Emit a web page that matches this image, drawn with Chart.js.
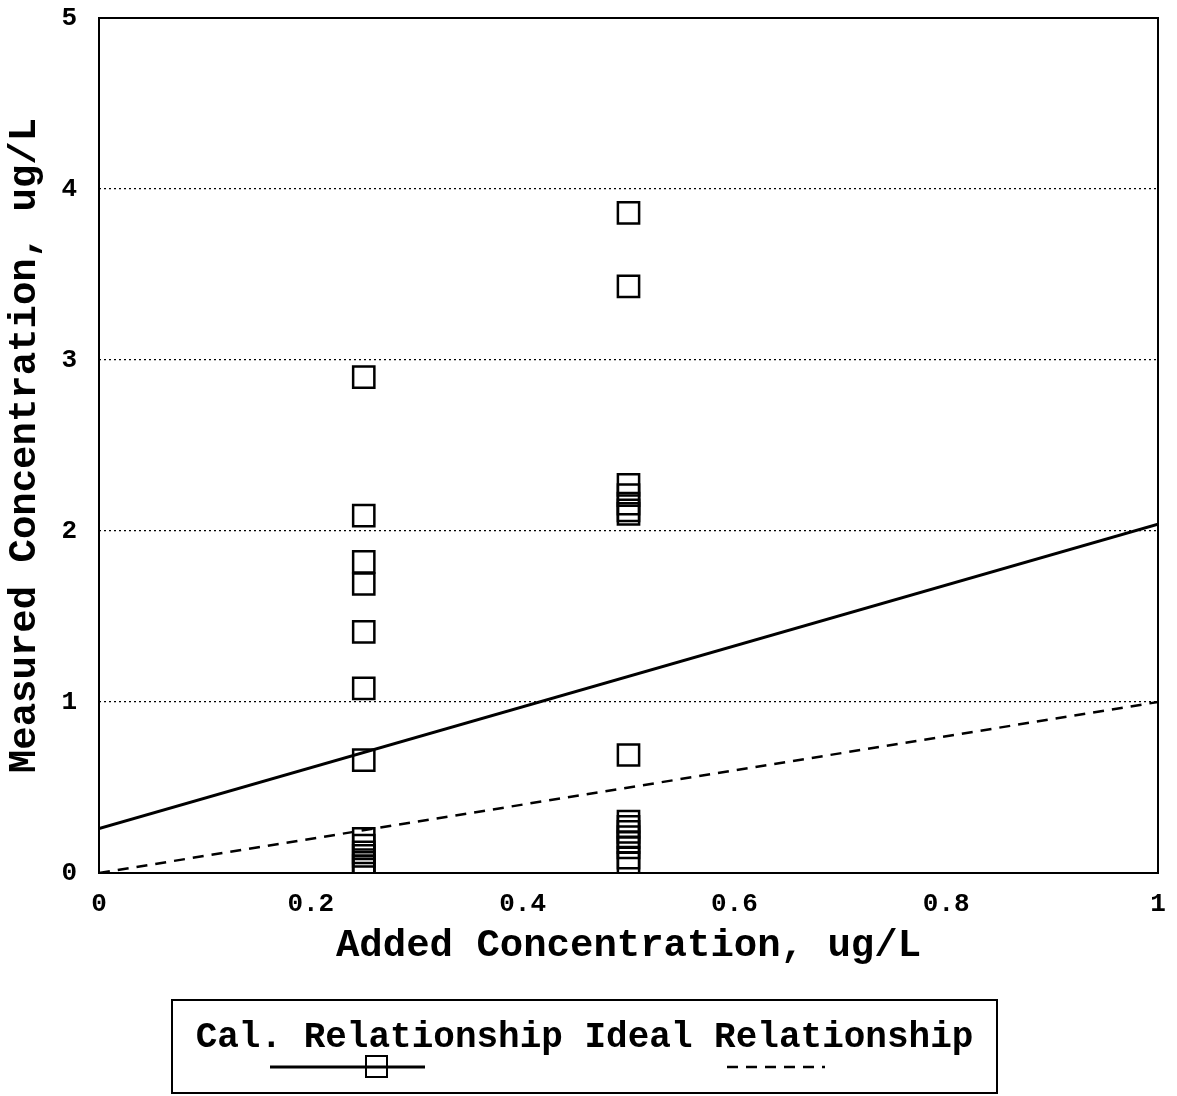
<!DOCTYPE html>
<html>
<head>
<meta charset="utf-8">
<script src="https://cdn.jsdelivr.net/npm/chart.js@4.4.1/dist/chart.umd.min.js"></script>
<style>
  html, body { margin: 0; padding: 0; background: #fff; }
  #wrap { width: 1177px; height: 1096px; position: relative; }
</style>
</head>
<body>
<div id="wrap"><canvas id="chart" width="1177" height="1096"></canvas></div>
<script>
// Measured vs added concentration (ug/L)
const added025 = 0.25;
const added050 = 0.5;
const measuredAt025 = [2.90, 2.09, 1.82, 1.69, 1.41, 1.08, 0.66, 0.20, 0.16, 0.12, 0.10, 0.06, 0.04, 0.02];
const measuredAt050 = [3.86, 3.43, 2.27, 2.21, 2.16, 2.12, 2.10, 0.69, 0.30, 0.27, 0.24, 0.21, 0.18, 0.15, 0.09, 0.06];
const calLineX = [0, 1];
const calLineY = [0.26, 2.04];
const idealLineX = [0, 1];
const idealLineY = [0, 1];
const xTicks = [0, 0.2, 0.4, 0.6, 0.8, 1];
const yTicks = [0, 1, 2, 3, 4, 5];

// typewriter look of the original
const FONT = "'Liberation Mono', 'Courier New', monospace";

const points = [
    ...measuredAt025.map(y => ({ x: added025, y })),
    ...measuredAt050.map(y => ({ x: added050, y }))
];
const toXY = (xs, ys) => xs.map((x, i) => ({ x, y: ys[i] }));

// frame round the plot + the two-row legend below
const framePlugin = {
    id: 'frame',
    afterDraw(chart) {
        const { ctx, chartArea: a } = chart;
        ctx.save();
        ctx.strokeStyle = '#000';
        ctx.lineWidth = 2;
        ctx.strokeRect(a.left, a.top, a.right - a.left, a.bottom - a.top);

        // legend box
        const bx = 172, by = 1000, bw = 825, bh = 93;
        ctx.strokeRect(bx, by, bw, bh);
        ctx.fillStyle = '#000';
        ctx.font = `bold 36px ${FONT}`;
        ctx.textBaseline = 'alphabetic';
        ctx.textAlign = 'left';
        const label1 = 'Cal. Relationship';
        const label2 = 'Ideal Relationship';
        const gap = ctx.measureText(' ').width;
        const w1 = ctx.measureText(label1).width;
        const w2 = ctx.measureText(label2).width;
        const startX = bx + (bw - (w1 + gap + w2)) / 2;
        ctx.fillText(label1, startX, 1047);
        ctx.fillText(label2, startX + w1 + gap, 1047);

        // solid line with square marker
        ctx.lineWidth = 3;
        ctx.beginPath();
        ctx.moveTo(270, 1067);
        ctx.lineTo(425, 1067);
        ctx.stroke();
        ctx.lineWidth = 2;
        ctx.strokeRect(366, 1056, 21, 21);
        // dashed line
        ctx.lineWidth = 2.5;
        ctx.setLineDash([11, 8]);
        ctx.beginPath();
        ctx.moveTo(727, 1067);
        ctx.lineTo(825, 1067);
        ctx.stroke();
        ctx.restore();
    }
};

new Chart(document.getElementById('chart'), {
    type: 'scatter',
    data: {
        datasets: [
            {
                label: 'Measured',
                data: points,
                pointStyle: 'rect',
                pointRadius: 15,
                pointHoverRadius: 15,
                borderColor: '#000',
                borderWidth: 2.5,
                backgroundColor: 'rgba(0,0,0,0)',
                showLine: false
            },
            {
                type: 'line',
                label: 'Cal. Relationship',
                data: toXY(calLineX, calLineY),
                borderColor: '#000',
                borderWidth: 3,
                pointRadius: 0,
                fill: false
            },
            {
                type: 'line',
                label: 'Ideal Relationship',
                data: toXY(idealLineX, idealLineY),
                borderColor: '#000',
                borderWidth: 2.5,
                borderDash: [11, 8],
                pointRadius: 0,
                fill: false
            }
        ]
    },
    options: {
        responsive: false,
        animation: false,
        layout: { padding: { top: 18, right: 19, left: 0, bottom: 110 } },
        plugins: {
            legend: { display: false },
            tooltip: { enabled: false }
        },
        scales: {
            x: {
                type: 'linear',
                min: 0,
                max: 1,
                afterBuildTicks: s => { s.ticks = xTicks.map(v => ({ value: v })); },
                afterFit: s => {
                    s.height = 113;
                    s.paddingLeft = 0;
                    s.paddingRight = 0;
                },
                grid: { display: false, drawTicks: false },
                border: { display: false },
                ticks: {
                    color: '#000',
                    padding: 16,
                    maxRotation: 0,
                    font: { family: FONT, size: 26, weight: 'bold' },
                    callback: v => String(v)
                },
                title: {
                    display: true,
                    text: 'Added Concentration, ug/L',
                    color: '#000',
                    padding: { bottom: 16 },
                    font: { family: FONT, size: 39, weight: 'bold' }
                }
            },
            y: {
                type: 'linear',
                min: 0,
                max: 5,
                afterBuildTicks: s => { s.ticks = yTicks.map(v => ({ value: v })); },
                afterFit: s => {
                    s.width = 99;
                    s.paddingTop = 0;
                    s.paddingBottom = 0;
                },
                grid: {
                    drawTicks: false,
                    color: c => (c.tick.value === 0 || c.tick.value === 5) ? 'rgba(0,0,0,0)' : '#000',
                    lineWidth: 1.2
                },
                border: { display: false, dash: [2, 3] },
                ticks: {
                    color: '#000',
                    padding: 22,
                    font: { family: FONT, size: 26, weight: 'bold' },
                    callback: v => String(v)
                },
                title: {
                    display: true,
                    text: 'Measured Concentration, ug/L',
                    color: '#000',
                    padding: { top: 2 },
                    font: { family: FONT, size: 39, weight: 'bold' }
                }
            }
        }
    },
    plugins: [framePlugin]
});
</script>
</body>
</html>
